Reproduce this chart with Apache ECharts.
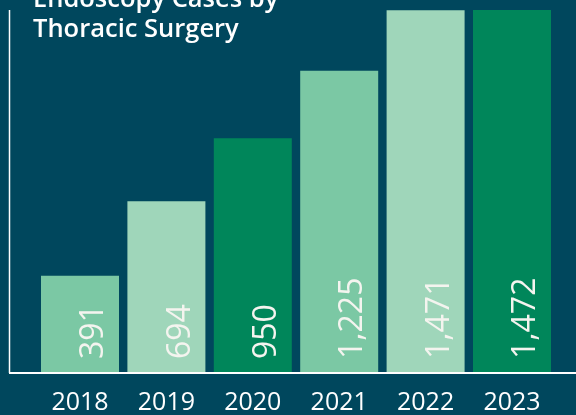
<!DOCTYPE html>
<html>
<head>
<meta charset="utf-8">
<script src="https://cdn.jsdelivr.net/npm/echarts@6/dist/echarts.min.js"></script>
<style>
  html, body { margin: 0; padding: 0; background: #00475d; }
  #chart { width: 576px; height: 415px; }
</style>
</head>
<body>
<div id="chart"></div>
<script>
// data
const years = ['2018', '2019', '2020', '2021', '2022', '2023'];
const cases = [391, 694, 950, 1225, 1471, 1472];
const barColors = ['#7bc8a4', '#9fd6ba', '#00865a', '#7bc8a4', '#9fd6ba', '#00865a'];

const chart = echarts.init(document.getElementById('chart'));

const option = {
  backgroundColor: '#00475d',
  animation: false,
  title: {
    text: 'Endoscopy Cases by\nThoracic Surgery',
    left: 33,
    top: -15,
    padding: 0,
    textStyle: {
      color: '#ffffff',
      fontFamily: 'Open Sans',
      fontWeight: 600,
      fontSize: 25.5,
      lineHeight: 30
    }
  },
  grid: { left: 36.8, right: 20.8, top: 10, bottom: 43 },
  xAxis: {
    type: 'category',
    data: years,
    axisLine: { show: false },
    axisTick: { show: false },
    axisLabel: {
      color: '#ffffff',
      fontFamily: 'Open Sans',
      fontSize: 25,
      margin: 18
    }
  },
  yAxis: {
    type: 'value',
    min: 0,
    max: 1472,
    show: false,
    splitLine: { show: false }
  },
  series: [{
    type: 'bar',
    barWidth: 78,
    data: cases.map((v, i) => ({ value: v, itemStyle: { color: barColors[i] } })),
    label: {
      show: true,
      position: 'insideBottom',
      distance: 13,
      // offset is in the rotated frame: second value pushes right
      offset: [0, 14],
      rotate: 90,
      align: 'left',
      verticalAlign: 'middle',
      color: '#f4f4ef',
      fontFamily: 'Open Sans',
      fontSize: 32,
      formatter: p => p.value.toLocaleString('en-US')
    }
  }],
  graphic: [
    // left and bottom frame lines
    { type: 'line', shape: { x1: 9.5, y1: 10, x2: 9.5, y2: 373 }, style: { stroke: '#ffffff', lineWidth: 1.5 }, z: 10 },
    { type: 'line', shape: { x1: 9, y1: 373, x2: 576, y2: 373 }, style: { stroke: '#ffffff', lineWidth: 2 }, z: 10 }
  ]
};

chart.setOption(option);
</script>
</body>
</html>
